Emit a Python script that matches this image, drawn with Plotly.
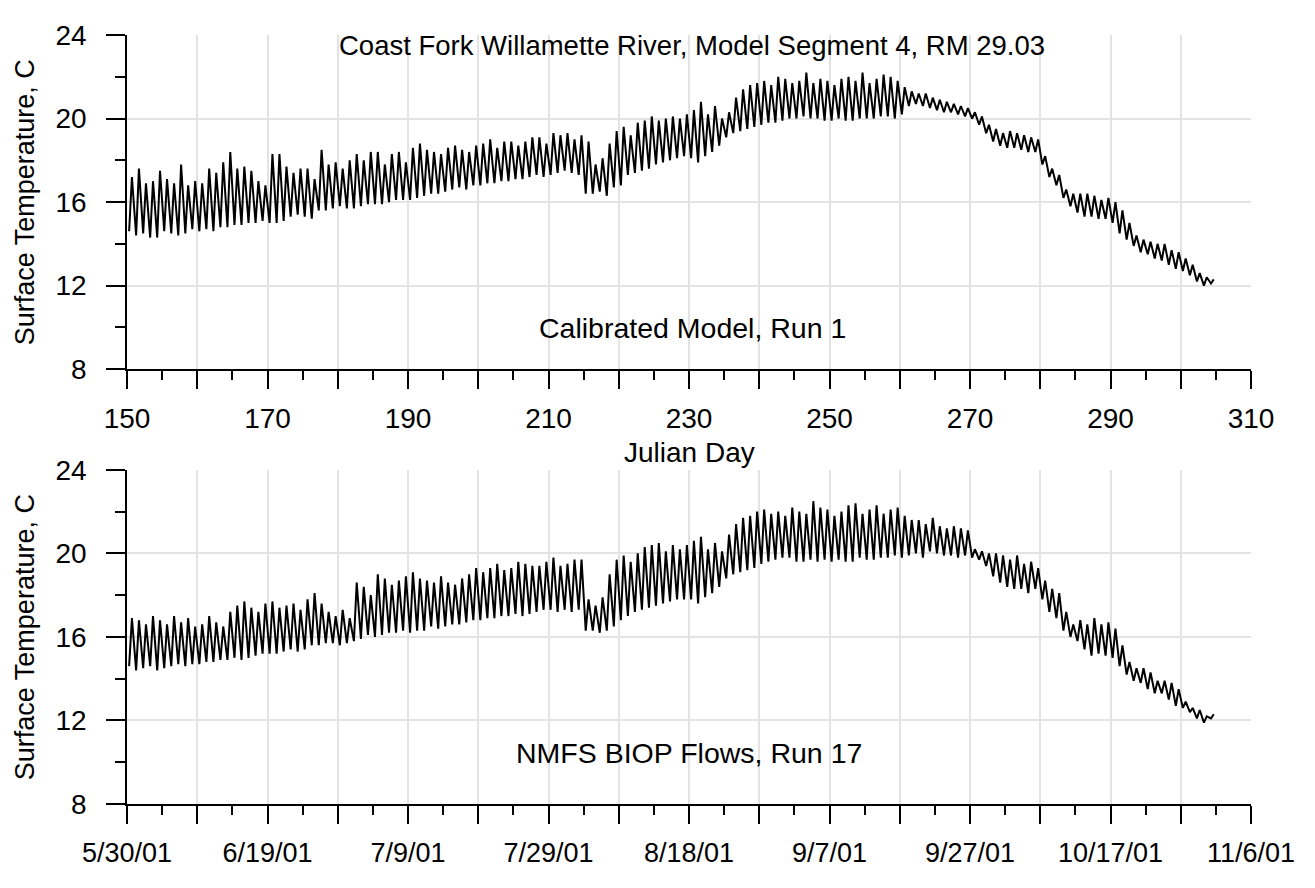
import plotly.graph_objects as go

# Julian days 150..304, one daily low and one daily high
days = list(range(150, 305))

calib_max = [
    17.2, 17.6, 16.9, 17.0, 17.5, 17.1, 16.9, 17.8, 16.8, 17.0,
    16.9, 17.6, 17.4, 17.9, 18.4, 17.6, 17.7, 17.5, 17.0, 16.8,
    18.3, 18.3, 17.7, 17.4, 17.6, 17.6, 17.1, 18.5, 17.8, 17.9,
    17.6, 18.0, 18.3, 18.0, 18.4, 18.4, 17.8, 18.3, 18.4, 17.9,
    18.6, 18.8, 18.5, 18.4, 18.3, 18.6, 18.7, 18.5, 18.4, 18.7,
    18.8, 19.0, 18.6, 18.9, 18.9, 18.7, 18.9, 19.1, 19.1, 18.8,
    19.3, 19.2, 19.3, 19.0, 19.2, 18.9, 17.8, 18.1, 18.8, 19.4,
    19.6, 19.2, 19.8, 19.9, 20.1, 19.9, 20.0, 20.1, 20.0, 20.2,
    20.4, 20.8, 20.2, 20.6, 20.0, 20.3, 21.0, 21.4, 21.6, 21.7,
    21.8, 21.6, 22.0, 21.9, 21.7, 21.8, 22.2, 21.7, 21.9, 21.8,
    21.6, 21.9, 22.0, 21.8, 22.2, 21.7, 21.9, 22.1, 22.0, 21.8,
    21.5, 21.3, 21.2, 21.2, 21.0, 20.9, 20.8, 20.7, 20.6, 20.5,
    20.3, 20.1, 19.7, 19.5, 19.3, 19.4, 19.3, 19.2, 19.1, 19.0,
    18.2, 17.6, 17.3, 16.6, 16.4, 16.4, 16.4, 16.3, 16.1, 16.2,
    16.0, 15.6, 15.0, 14.4, 14.2, 14.1, 14.0, 14.0, 13.7, 13.6,
    13.3, 13.0, 12.6, 12.4, 12.3,
]
calib_min = [
    14.6, 14.4, 14.5, 14.3, 14.3, 14.6, 14.5, 14.4, 14.5, 14.7,
    14.6, 14.7, 14.6, 14.8, 14.8, 14.9, 14.9, 15.0, 15.0, 15.1,
    15.0, 15.0, 15.1, 15.3, 15.4, 15.3, 15.2, 15.6, 15.6, 15.7,
    15.8, 15.7, 15.7, 15.8, 15.9, 15.9, 15.9, 16.0, 16.1, 16.1,
    16.1, 16.2, 16.3, 16.4, 16.4, 16.5, 16.6, 16.7, 16.6, 16.8,
    16.8, 16.9, 16.9, 17.0, 17.0, 17.1, 17.1, 17.2, 17.3, 17.2,
    17.3, 17.4, 17.5, 17.4, 17.3, 16.4, 16.4, 16.5, 16.3, 16.7,
    16.8, 17.3, 17.4, 17.5, 17.6, 17.8, 17.9, 18.0, 18.1, 18.2,
    18.1, 17.9, 18.2, 18.4, 18.7, 19.1, 19.3, 19.4, 19.5, 19.6,
    19.7, 19.8, 19.8, 19.9, 20.0, 20.0, 20.1, 20.0, 20.0, 19.9,
    19.9, 20.0, 19.9, 19.9, 20.0, 20.0, 20.0, 20.1, 20.1, 20.0,
    20.2, 20.6, 20.7, 20.6, 20.5, 20.4, 20.3, 20.3, 20.2, 20.1,
    20.0, 19.7, 19.3, 18.9, 18.7, 18.6, 18.6, 18.5, 18.4, 18.4,
    17.8, 17.2, 16.8, 16.2, 15.8, 15.5, 15.3, 15.3, 15.2, 15.2,
    15.0, 14.5, 14.2, 13.9, 13.6, 13.5, 13.3, 13.2, 13.0, 12.8,
    12.7, 12.5, 12.2, 12.0, 12.1,
]

biop_max = [
    16.9, 16.8, 16.6, 17.0, 16.8, 16.6, 17.0, 16.7, 16.9, 16.5,
    16.6, 17.0, 16.7, 16.5, 17.2, 17.5, 17.7, 17.4, 17.2, 17.6,
    17.7, 17.4, 17.5, 17.6, 17.3, 17.8, 18.1, 17.6, 17.2, 17.0,
    17.3, 16.9, 18.6, 18.4, 18.0, 19.0, 18.8, 18.5, 18.7, 18.9,
    19.1, 18.8, 18.7, 18.6, 18.9, 18.6, 18.5, 18.8, 19.0, 19.3,
    19.1, 19.3, 19.5, 19.2, 19.3, 19.6, 19.5, 19.4, 19.4, 19.6,
    19.8, 19.4, 19.5, 19.7, 19.7, 17.8, 17.5, 17.9, 19.0, 19.7,
    19.9, 19.6, 20.0, 20.3, 20.4, 20.5, 20.1, 20.4, 20.2, 20.4,
    20.6, 20.8, 20.2, 20.5, 20.1, 20.9, 21.4, 21.7, 21.8, 22.0,
    22.1, 21.9, 22.0, 21.8, 22.2, 22.0, 21.9, 22.5, 22.2, 22.1,
    21.8, 22.0, 22.3, 22.4, 21.9, 22.1, 22.3, 21.9, 22.1, 22.2,
    21.8, 21.6, 21.6, 21.4, 21.7, 21.3, 21.2, 21.3, 21.2, 21.1,
    20.2, 20.1, 20.0, 20.0, 19.9, 19.7, 19.9, 19.5, 19.6, 19.3,
    18.7, 18.3, 18.1, 17.2, 16.6, 16.8, 16.6, 16.9, 16.6, 16.7,
    16.4, 15.6, 14.8, 14.5, 14.5, 14.3, 13.9, 13.9, 13.8, 13.5,
    12.9, 12.6, 12.5, 12.2, 12.3,
]
biop_min = [
    14.6, 14.4, 14.5, 14.6, 14.4, 14.5, 14.6, 14.7, 14.6, 14.7,
    14.7, 14.8, 14.8, 14.9, 14.9, 15.0, 14.9, 15.0, 15.1, 15.2,
    15.2, 15.2, 15.3, 15.4, 15.3, 15.4, 15.6, 15.6, 15.7, 15.7,
    15.6, 15.7, 15.8, 15.9, 16.1, 16.0, 16.1, 16.2, 16.2, 16.3,
    16.2, 16.3, 16.3, 16.5, 16.4, 16.5, 16.6, 16.6, 16.7, 16.8,
    16.8, 16.9, 16.9, 17.0, 17.0, 17.1, 17.0, 17.1, 17.2, 17.3,
    17.3, 17.2, 17.3, 17.2, 17.3, 16.3, 16.3, 16.2, 16.3, 16.5,
    16.8, 17.0, 17.2, 17.3, 17.4, 17.5, 17.6, 17.7, 17.8, 17.8,
    17.8, 17.6, 17.9, 18.1, 18.4, 18.8, 19.0, 19.1, 19.2, 19.3,
    19.5, 19.6, 19.7, 19.8, 19.8, 19.6, 19.6, 19.7, 19.6, 19.7,
    19.6, 19.7, 19.6, 19.6, 19.8, 19.7, 19.7, 19.8, 19.8, 19.9,
    19.8, 19.9, 20.0, 19.8, 20.1, 20.0, 19.9, 19.9, 19.8, 19.9,
    19.8, 19.7, 19.4, 18.9, 18.6, 18.4, 18.3, 18.3, 18.1, 18.3,
    17.8, 17.2, 16.9, 16.3, 16.0, 15.8, 15.4, 15.1, 15.2, 15.1,
    15.0, 14.6, 14.2, 13.9, 13.8, 13.5, 13.3, 13.3, 13.0, 12.7,
    12.6, 12.4, 12.1, 11.9, 12.1,
]

x_ticks = list(range(150, 311, 10))
day_labels = ['150', '170', '190', '210', '230', '250', '270', '290', '310']
date_labels = ['5/30/01', '6/19/01', '7/9/01', '7/29/01', '8/18/01',
               '9/7/01', '9/27/01', '10/17/01', '11/6/01']
y_ticks = [8, 12, 16, 20, 24]


def zigzag(lows, highs):
    # low in the early morning, high in the afternoon
    xs, ys = [], []
    for d, lo, hi in zip(days, lows, highs):
        xs += [d + 0.3, d + 0.7]
        ys += [lo, hi]
    return xs, ys


def spread(labels):
    # label every other tick (every 20 days), blank in between
    out = []
    for i in range(len(x_ticks)):
        out.append(labels[i // 2] if i % 2 == 0 else '')
    return out


FONT = 'Liberation Sans, Arial, sans-serif'
GRID = '#e3e3e3'

fig = go.Figure()
x1, y1 = zigzag(calib_min, calib_max)
x2, y2 = zigzag(biop_min, biop_max)
fig.add_trace(go.Scatter(x=x1, y=y1, mode='lines', line=dict(color='black', width=2),
                         xaxis='x', yaxis='y', showlegend=False))
fig.add_trace(go.Scatter(x=x2, y=y2, mode='lines', line=dict(color='black', width=2),
                         xaxis='x2', yaxis='y2', showlegend=False))

xcommon = dict(range=[150, 310], tickmode='array', tickvals=x_ticks,
               ticks='outside', ticklen=18, tickwidth=1.5, tickcolor='black',
               showline=True, linecolor='black', linewidth=1.5,
               showgrid=True, gridcolor=GRID, gridwidth=1.5, zeroline=False,
               minor=dict(dtick=5, tick0=150, ticks='outside', ticklen=9,
                          tickwidth=1.5, tickcolor='black', showgrid=False),
               ticklabelstandoff=6,
               tickfont=dict(family=FONT, size=28, color='black'))
ycommon = dict(range=[8, 24], tickmode='array', tickvals=y_ticks,
               ticks='outside', ticklen=19, tickwidth=1.5, tickcolor='black',
               showline=True, linecolor='black', linewidth=1.5,
               showgrid=True, gridcolor=GRID, gridwidth=1.5, zeroline=False,
               minor=dict(dtick=2, tick0=8, ticks='outside', ticklen=10,
                          tickwidth=1.5, tickcolor='black', showgrid=False),
               ticklabelstandoff=14,
               tickfont=dict(family=FONT, size=28, color='black'))

fig.update_layout(
    width=1299, height=872,
    margin=dict(l=119, r=47, t=14, b=57),
    paper_bgcolor='white', plot_bgcolor='white',
    xaxis=dict(xcommon, anchor='y', ticktext=spread(day_labels)),
    yaxis=dict(ycommon, anchor='x', domain=[0.5655, 1.0]),
    xaxis2=dict(xcommon, anchor='y2', ticktext=spread(date_labels),
                tickfont=dict(family=FONT, size=27, color='black')),
    yaxis2=dict(ycommon, anchor='x2', domain=[0.0, 0.4345]),
)

notes = [
    ('Coast Fork Willamette River, Model Segment 4, RM 29.03', 0.503, 0.986, 27.5),
    ('Calibrated Model, Run 1', 0.503, 0.619, 28.5),
    ('Julian Day', 0.5, 0.4575, 28),
    ('NMFS BIOP Flows, Run 17', 0.5, 0.066, 28.5),
]
for txt, xp, yp, sz in notes:
    fig.add_annotation(text=txt, x=xp, y=yp, xref='paper', yref='paper',
                       xanchor='center', yanchor='middle', showarrow=False,
                       font=dict(family=FONT, size=sz, color='black'))

for yref in ['y domain', 'y2 domain']:
    fig.add_annotation(text='Surface Temperature, C', x=-0.0905, y=0.5,
                       xref='paper', yref=yref, textangle=-90,
                       xanchor='center', yanchor='middle', showarrow=False,
                       font=dict(family=FONT, size=27, color='black'))

fig.write_html('out.html')
